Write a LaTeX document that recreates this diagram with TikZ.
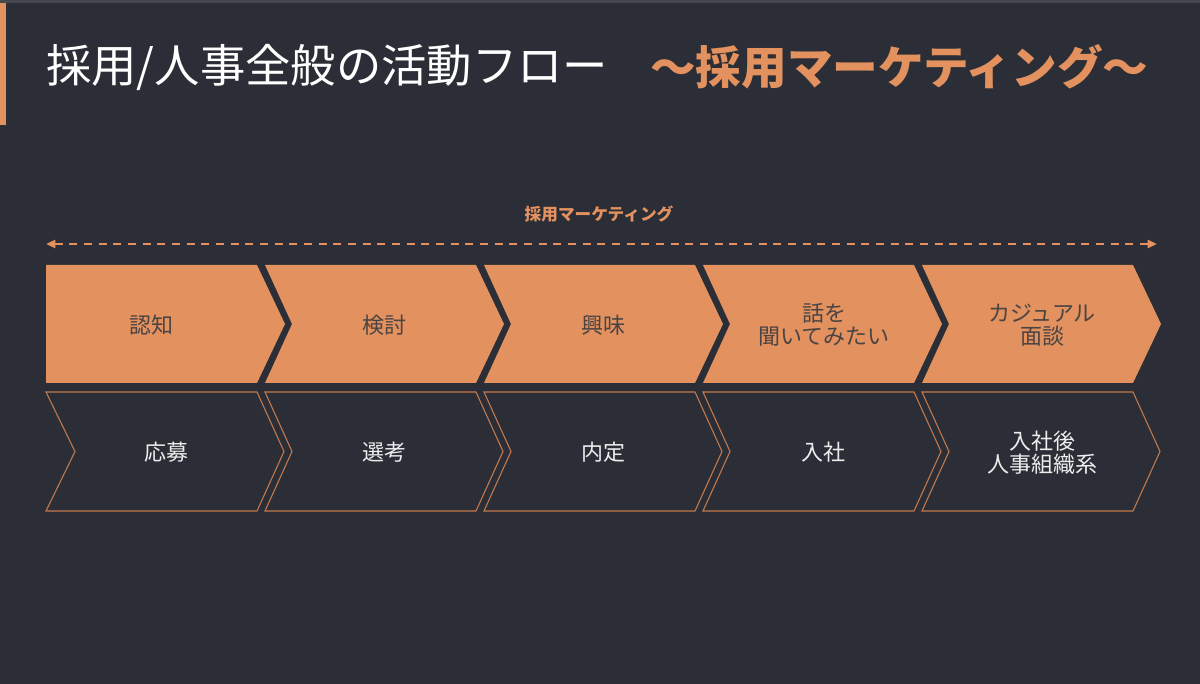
\documentclass[tikz,border=0pt]{standalone}
\usepackage{fontspec}
\setmainfont{Noto Sans CJK JP}
\usetikzlibrary{arrows.meta}
\definecolor{bgc}{HTML}{2B2E36}
\definecolor{topc}{HTML}{45484F}
\definecolor{org}{HTML}{E2915F}
\definecolor{orgline}{HTML}{C47A4E}
\definecolor{dtext}{HTML}{4A4442}
\definecolor{wtext}{HTML}{EDEDED}
\tikzset{
  upbox/.style={fill=org},
  lowbox/.style={draw=orgline, line width=0.8pt, line join=miter},
  uplabel/.style={text=dtext, font=\fontsize{16.5pt}{17.5pt}\selectfont, align=center, inner sep=0pt},
  lowlabel/.style={text=wtext, font=\fontsize{16.5pt}{17.5pt}\selectfont, align=center, inner sep=0pt},
}
\begin{document}
\begin{tikzpicture}[x=0.75pt,y=-0.75pt]
\useasboundingbox (0,0) rectangle (1200,684);
\fill[bgc] (0,0) rectangle (1200,684);
\fill[topc] (0,0) rectangle (1200,3);
\fill[org] (0,3) rectangle (6,125);
% titles
\node[anchor=west, text=white, inner sep=0pt, font=\fontsize{34pt}{36pt}\selectfont] (title) at (46,67) {採用/人事全般の活動フロー};
\node[anchor=west, text=org, inner sep=0pt, font=\fontsize{34.2pt}{36pt}\selectfont\bfseries] (subtitle) at (650,67) {～採用マーケティング～};
% marketing label and dashed arrow
\node[text=org, inner sep=0pt, font=\fontsize{12.5pt}{14pt}\selectfont\bfseries] (mk) at (599,214) {採用マーケティング};
\coordinate (al) at (46,244);
\coordinate (ar) at (1157,244);
\draw[org, line width=1.8pt, dash pattern=on 6pt off 5pt, {Triangle[length=7pt,width=6pt]}-{Triangle[length=7pt,width=6pt]}] (al) -- (ar);
% upper chevrons
\foreach \s/\n in {46/0,265/27,484/27,703/27,922/27} {
  \path[upbox] (\s,265) -- (\s+211,265) -- (\s+239,324) -- (\s+211,383) -- (\s,383) -- (\s+\n,324) -- cycle;
}
% lower chevrons
\foreach \s/\n in {46/29,265/27,484/27,703/27,922/27} {
  \path[lowbox] (\s,392) -- (\s+211,392) -- (\s+238,451.5) -- (\s+211,511) -- (\s,511) -- (\s+\n,451.5) -- cycle;
}
% upper labels
\node[uplabel] (u1) at (151,325) {認知};
\node[uplabel] (u2) at (384,325) {検討};
\node[uplabel] (u3) at (603,325) {興味};
\node[uplabel] (u4) at (824,325) {話を\\聞いてみたい};
\node[uplabel] (u5) at (1042,325) {カジュアル\\面談};
% lower labels
\node[lowlabel] (l1) at (166,452) {応募};
\node[lowlabel] (l2) at (384,452) {選考};
\node[lowlabel] (l3) at (603,452) {内定};
\node[lowlabel] (l4) at (823,452) {入社};
\node[lowlabel] (l5) at (1042,453) {入社後\\人事組織系};
\end{tikzpicture}
\end{document}
